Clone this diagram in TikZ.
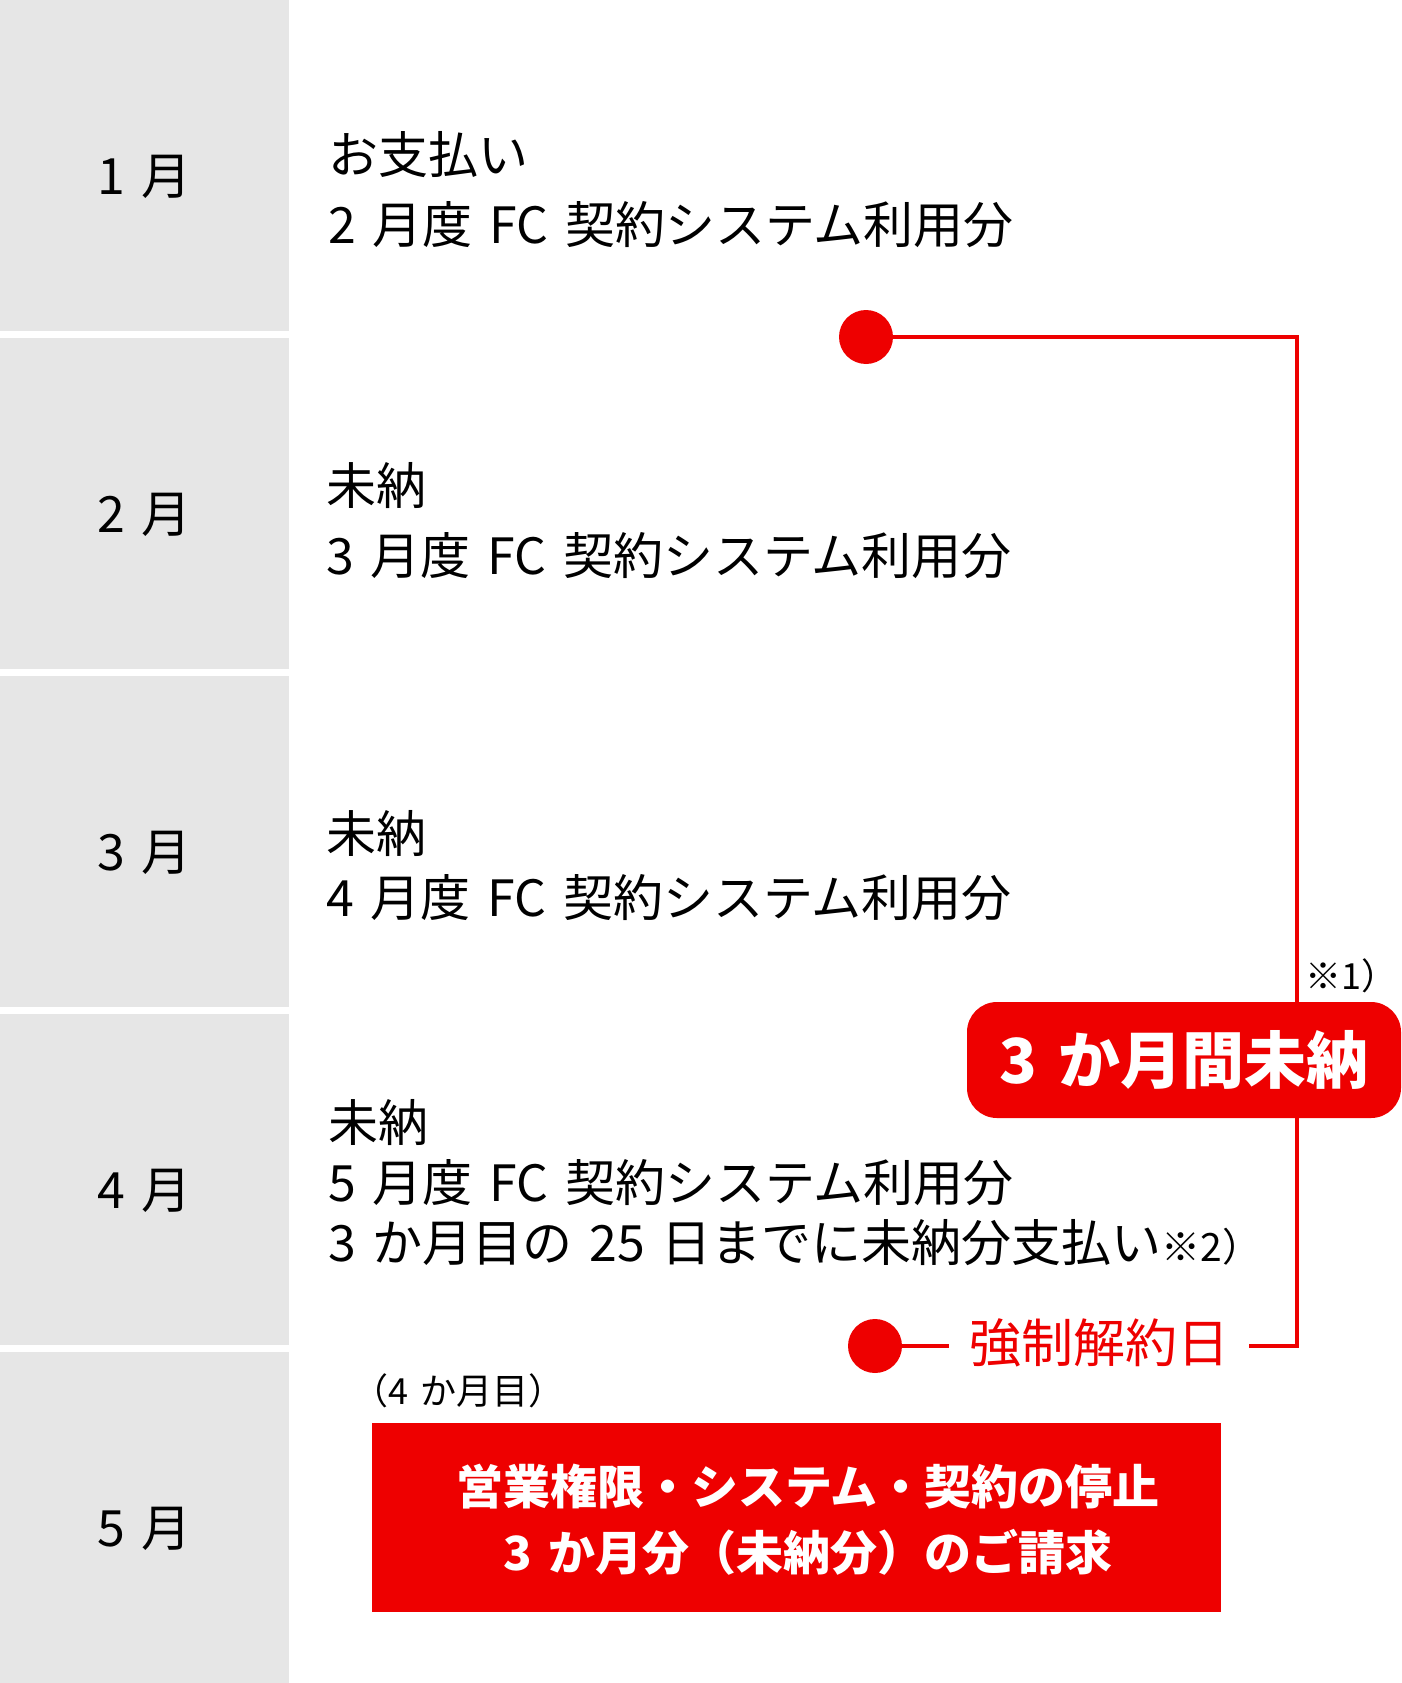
\documentclass[tikz,border=0pt]{standalone}
\usepackage{fontspec}
\setmainfont{Noto Sans CJK JP}[WordSpace=1.5]
\definecolor{PlanRed}{HTML}{EE0000}
\definecolor{PlanGrey}{HTML}{E6E6E6}
\tikzset{
    month/.style={rectangle, fill=PlanGrey, minimum width = 289pt,
                minimum height = 331pt, inner sep = 0},
    monthlabel/.style={anchor=center, inner sep = 0, font=\fontsize{50}{60}\selectfont},
    rowtext/.style={anchor=west, align=left, inner sep = 0},
    reddot/.style={circle, fill=PlanRed, minimum size = 54pt, inner sep = 0},
    redline/.style={draw=PlanRed, line width = 4pt},
    badge/.style={rectangle, rounded corners = 30pt, fill=PlanRed, minimum width = 434pt,
                minimum height = 116pt, inner sep = 0, text=white,
                font=\fontsize{62}{70}\selectfont\bfseries},
    notetext/.style={anchor=west, inner sep = 0, font=\fontsize{36}{40}\selectfont},
    stopbox/.style={rectangle, fill=PlanRed, minimum width = 849pt,
                minimum height = 189pt, inner sep = 0},
    stoptext/.style={align=center, inner sep = 0, text=white,
                font=\fontsize{47}{66}\selectfont\bfseries},
}
\newcommand{\monthrow}[3]{%
    \node[month] (#1) at (144.5,#2) {};
    \node[monthlabel] (#1L) at ([yshift=-11pt]#1.center) {#3};
}
\newcommand{\smallnote}[1]{{\fontsize{39}{40}\selectfont #1}}

\begin{document}
\begin{tikzpicture}[x=1pt,y=-1pt]
        \useasboundingbox (0,0) rectangle (1402,1683);
        %
        % Month column
        \monthrow{M1}{165.5}{1 月}
        \monthrow{M2}{503.5}{2 月}
        \monthrow{M3}{841.5}{3 月}
        \monthrow{M4}{1179.5}{4 月}
        \monthrow{M5}{1517.5}{5 月}
        %
        % Row texts
        \node[rowtext, font=\fontsize{50}{70}\selectfont] (T1) at (328,190)
            {お支払い\\2 月度 FC 契約システム利用分};
        \node[rowtext, font=\fontsize{50}{70}\selectfont] (T2) at (326,521)
            {未納\\3 月度 FC 契約システム利用分};
        \node[rowtext, font=\fontsize{50}{64}\selectfont] (T3) at (326,866)
            {未納\\4 月度 FC 契約システム利用分};
        \node[rowtext, font=\fontsize{50}{60}\selectfont] (T4) at (328,1183)
            {未納\\5 月度 FC 契約システム利用分\\3 か月目の 25 日までに未納分支払い\smallnote{※2）}};
        %
        % Red timeline
        \coordinate (cornerTop) at (1297,337);
        \coordinate (cornerBot) at (1297,1346);
        \node[reddot] (dotA) at (866,337) {};
        \node[reddot] (dotB) at (875,1346) {};
        \node[inner xsep = 20pt, inner ysep = 0, text=PlanRed,
              font=\fontsize{52}{60}\selectfont] (deadline) at (1099,1343) {強制解約日};
        \draw[redline] (dotA) -- (cornerTop) -- (cornerBot) -- (deadline.east |- cornerBot);
        \draw[redline] (dotB) -- (deadline.west |- dotB);
        \node[badge] (unpaid) at (1184,1060) {3 か月間未納};
        \node[notetext] (note1) at (1305,976) {※1）};
        %
        % Fifth month
        \node[notetext] (fourth) at (352,1391) {（4 か月目）};
        \node[stopbox] (stop) at (796.5,1517.5) {};
        \node[stoptext] (stopT) at (808,1520)
            {営業権限・システム・契約の停止\\3 か月分（未納分）のご請求};
\end{tikzpicture}
\end{document}
